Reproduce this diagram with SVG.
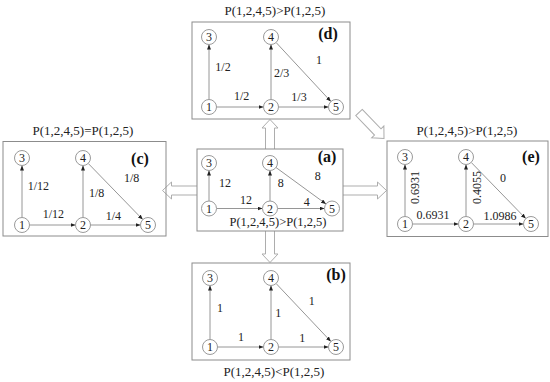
<svg xmlns="http://www.w3.org/2000/svg" width="550" height="382" viewBox="0 0 550 382">
<style>
.box{fill:none;stroke:#8c8c8c;stroke-width:1}
.harrow{fill:#fff;stroke:#adadad;stroke-width:1}
.nd circle{fill:#fff;stroke:#9a9a9a;stroke-width:1}
.nd text,.lbl,.title{font-family:"Liberation Serif","Times New Roman",serif;fill:#222;text-anchor:middle}
.nd text{font-size:12px}
.lbl{font-size:12px}
.title{font-size:13px}
.tag{font-family:"Liberation Serif","Times New Roman",serif;font-size:16px;font-weight:bold;fill:#111;text-anchor:middle}
.edge{stroke:#8a8a8a;stroke-width:0.9;fill:none;marker-end:url(#ah)}
</style>
<defs>
<marker id="ah" markerUnits="userSpaceOnUse" markerWidth="6" markerHeight="5" refX="5" refY="2" orient="auto">
<path d="M0,0 L5,2 L0,4 z" fill="#222"/>
</marker>
</defs>
<rect width="550" height="382" fill="#fff"/>

<g id="transform-arrows">
<polyline class="harrow" points="265.5,149 265.5,128 262,128 270,119.5 278,128 274.5,128 274.5,149"/>
<polyline class="harrow" points="265.5,231 265.5,254 262,254 270,262.5 278,254 274.5,254 274.5,231"/>
<polyline class="harrow" points="197,186 171.5,186 171.5,182 162.5,190.5 171.5,199 171.5,195 197,195"/>
<polyline class="harrow" points="343,186 377.5,186 377.5,182 386.5,190.5 377.5,199 377.5,195 343,195"/>
<polygon class="harrow" transform="translate(359,112.5) rotate(46)" points="0,-4.5 27,-4.5 27,-8.5 36,0 27,8.5 27,4.5 0,4.5"/>
</g>

<!-- Panel (d) -->
<g id="panel-d">
<rect class="box" x="192" y="22" width="158" height="97"/>
<text class="title" x="275" y="15">P(1,2,4,5)&gt;P(1,2,5)</text>
<text class="tag" x="328" y="38.5">(d)</text>
</g>
<g id="edges-d">
<line class="edge" x1="209" y1="99.5" x2="209" y2="44.5"/>
<line class="edge" x1="216.5" y1="107" x2="263.5" y2="107"/>
<line class="edge" x1="271" y1="99.5" x2="271" y2="44.5"/>
<line class="edge" x1="278.5" y1="107" x2="328.5" y2="107"/>
<line class="edge" x1="276.1" y1="42.5" x2="330.9" y2="101.5"/>
<text class="lbl" x="223" y="70.5">1/2</text>
<text class="lbl" x="241.7" y="100">1/2</text>
<text class="lbl" x="281.7" y="77">2/3</text>
<text class="lbl" x="319" y="64">1</text>
<text class="lbl" x="299" y="101">1/3</text>
</g>
<g id="d-n1" class="nd"><circle cx="209" cy="107" r="7.5"/><text x="209" y="111">1</text></g>
<g id="d-n2" class="nd"><circle cx="271" cy="107" r="7.5"/><text x="271" y="111">2</text></g>
<g id="d-n3" class="nd"><circle cx="209" cy="37" r="7.5"/><text x="209" y="41">3</text></g>
<g id="d-n4" class="nd"><circle cx="271" cy="37" r="7.5"/><text x="271" y="41">4</text></g>
<g id="d-n5" class="nd"><circle cx="336" cy="107" r="7.5"/><text x="336" y="111">5</text></g>

<!-- Panel (c) -->
<g id="panel-c">
<rect class="box" x="3" y="141.5" width="163" height="94.5"/>
<text class="title" x="83" y="135">P(1,2,4,5)=P(1,2,5)</text>
<text class="tag" x="140" y="163.5">(c)</text>
</g>
<g id="edges-c">
<line class="edge" x1="22" y1="217.5" x2="22" y2="165.5"/>
<line class="edge" x1="29.5" y1="225" x2="75.5" y2="225"/>
<line class="edge" x1="83" y1="217.5" x2="83" y2="165.5"/>
<line class="edge" x1="90.5" y1="225" x2="140.5" y2="225"/>
<line class="edge" x1="88.2" y1="163.4" x2="142.8" y2="219.6"/>
<text class="lbl" x="38.3" y="189.7">1/12</text>
<text class="lbl" x="53.3" y="218">1/12</text>
<text class="lbl" x="96.7" y="197.3">1/8</text>
<text class="lbl" x="131.7" y="182.3">1/8</text>
<text class="lbl" x="113.3" y="220">1/4</text>
</g>
<g id="c-n1" class="nd"><circle cx="22" cy="225" r="7.5"/><text x="22" y="229">1</text></g>
<g id="c-n2" class="nd"><circle cx="83" cy="225" r="7.5"/><text x="83" y="229">2</text></g>
<g id="c-n3" class="nd"><circle cx="22" cy="158" r="7.5"/><text x="22" y="162">3</text></g>
<g id="c-n4" class="nd"><circle cx="83" cy="158" r="7.5"/><text x="83" y="162">4</text></g>
<g id="c-n5" class="nd"><circle cx="148" cy="225" r="7.5"/><text x="148" y="229">5</text></g>

<!-- Panel (a) -->
<g id="panel-a">
<rect class="box" x="197" y="149" width="146" height="82"/>
<text class="title" x="278" y="226" style="font-size:12.5px">P(1,2,4,5)&gt;P(1,2,5)</text>
<text class="tag" x="327" y="162">(a)</text>
</g>
<g id="edges-a">
<line class="edge" x1="209" y1="201" x2="209" y2="170.5"/>
<line class="edge" x1="216.5" y1="208.5" x2="262.5" y2="208.5"/>
<line class="edge" x1="270" y1="201" x2="270" y2="170.5"/>
<line class="edge" x1="277.5" y1="208.5" x2="324.5" y2="208.5"/>
<line class="edge" x1="276" y1="167.5" x2="326" y2="204"/>
<text class="lbl" x="225" y="186.7">12</text>
<text class="lbl" x="246" y="204">12</text>
<text class="lbl" x="280.7" y="186.7">8</text>
<text class="lbl" x="317.7" y="180">8</text>
<text class="lbl" x="306.7" y="206">4</text>
</g>
<g id="a-n1" class="nd"><circle cx="209" cy="208.5" r="7.5"/><text x="209" y="212.5">1</text></g>
<g id="a-n2" class="nd"><circle cx="270" cy="208.5" r="7.5"/><text x="270" y="212.5">2</text></g>
<g id="a-n3" class="nd"><circle cx="209" cy="163" r="7.5"/><text x="209" y="167">3</text></g>
<g id="a-n4" class="nd"><circle cx="270" cy="163" r="7.5"/><text x="270" y="167">4</text></g>
<g id="a-n5" class="nd"><circle cx="332" cy="208.5" r="7.5"/><text x="332" y="212.5">5</text></g>

<!-- Panel (e) -->
<g id="panel-e">
<rect class="box" x="387" y="141" width="161" height="95.5"/>
<text class="title" x="467" y="135">P(1,2,4,5)&gt;P(1,2,5)</text>
<text class="tag" x="531" y="162">(e)</text>
</g>
<g id="edges-e">
<line class="edge" x1="405" y1="216.5" x2="405" y2="164.5"/>
<line class="edge" x1="412.5" y1="224" x2="458.5" y2="224"/>
<line class="edge" x1="466" y1="216.5" x2="466" y2="164.5"/>
<line class="edge" x1="473.5" y1="224" x2="523.5" y2="224"/>
<line class="edge" x1="471.2" y1="162.4" x2="525.8" y2="218.6"/>
<text class="lbl" transform="translate(415,187.5) rotate(-90)" y="4.3">0.6931</text>
<text class="lbl" transform="translate(477,187.5) rotate(-90)" y="4.3">0.4055</text>
<text class="lbl" x="503" y="181.7">0</text>
<text class="lbl" x="433" y="219">0.6931</text>
<text class="lbl" x="500" y="220">1.0986</text>
</g>
<g id="e-n1" class="nd"><circle cx="405" cy="224" r="7.5"/><text x="405" y="228">1</text></g>
<g id="e-n2" class="nd"><circle cx="466" cy="224" r="7.5"/><text x="466" y="228">2</text></g>
<g id="e-n3" class="nd"><circle cx="405" cy="157" r="7.5"/><text x="405" y="161">3</text></g>
<g id="e-n4" class="nd"><circle cx="466" cy="157" r="7.5"/><text x="466" y="161">4</text></g>
<g id="e-n5" class="nd"><circle cx="531" cy="224" r="7.5"/><text x="531" y="228">5</text></g>

<!-- Panel (b) -->
<g id="panel-b">
<rect class="box" x="192" y="263" width="158" height="97"/>
<text class="title" x="274" y="376">P(1,2,4,5)&lt;P(1,2,5)</text>
<text class="tag" x="336" y="280">(b)</text>
</g>
<g id="edges-b">
<line class="edge" x1="210" y1="339.5" x2="210" y2="285.5"/>
<line class="edge" x1="217.5" y1="347" x2="263.5" y2="347"/>
<line class="edge" x1="271" y1="339.5" x2="271" y2="285.5"/>
<line class="edge" x1="278.5" y1="347" x2="328.5" y2="347"/>
<line class="edge" x1="276.1" y1="283.5" x2="330.9" y2="341.5"/>
<text class="lbl" x="220" y="311.7">1</text>
<text class="lbl" x="241" y="340.7">1</text>
<text class="lbl" x="278.3" y="317.3">1</text>
<text class="lbl" x="311.7" y="305">1</text>
<text class="lbl" x="302.3" y="342.3">1</text>
</g>
<g id="b-n1" class="nd"><circle cx="210" cy="347" r="7.5"/><text x="210" y="351">1</text></g>
<g id="b-n2" class="nd"><circle cx="271" cy="347" r="7.5"/><text x="271" y="351">2</text></g>
<g id="b-n3" class="nd"><circle cx="210" cy="278" r="7.5"/><text x="210" y="282">3</text></g>
<g id="b-n4" class="nd"><circle cx="271" cy="278" r="7.5"/><text x="271" y="282">4</text></g>
<g id="b-n5" class="nd"><circle cx="336" cy="347" r="7.5"/><text x="336" y="351">5</text></g>
</svg>
